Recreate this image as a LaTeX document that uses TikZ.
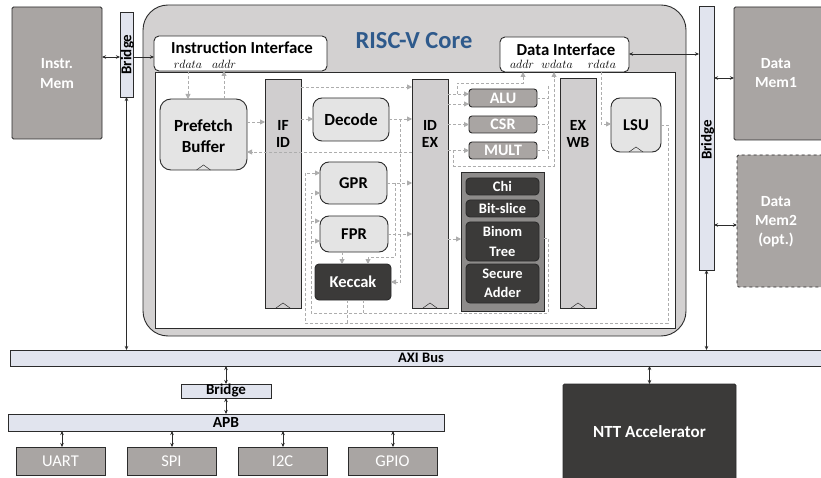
\documentclass[tikz,border=0pt]{standalone}
\usepackage{fontspec}
\setmainfont{Carlito}
\usetikzlibrary{arrows.meta,calc}
\definecolor{memgrey}{HTML}{A9A5A3}
\definecolor{coregrey}{HTML}{D3D1D1}
\definecolor{buscol}{HTML}{E1E4EE}
\definecolor{reggrey}{HTML}{D0CECF}
\definecolor{unitgrey}{HTML}{E4E4E4}
\definecolor{darkunit}{HTML}{3B3A39}
\definecolor{grpgrey}{HTML}{8D8B8A}
\definecolor{flowgrey}{HTML}{ADADAD}
\definecolor{edgecol}{HTML}{2B2B2B}
\definecolor{titleblue}{HTML}{2E5A8C}
\newcommand\clockmark[1]{\draw[clk] ([xshift=-7pt]#1.south) -- ([yshift=5pt]#1.south) -- ([xshift=7pt]#1.south);}
\newcommand\bfs[2]{\bfseries\fontsize{#1}{#2}\selectfont}
\begin{document}
\begin{tikzpicture}[x=1pt,y=-1pt,
  box/.style={draw=edgecol,line width=0.9pt,inner sep=0pt,outer sep=0pt,align=center},
  lab/.style={font=\bfs{15.5}{20},align=center,inner sep=0pt},
  memory/.style={box,fill=memgrey,rounded corners=1.5pt},
  bus/.style={box,fill=buscol,line width=0.8pt},
  unit/.style={box,fill=unitgrey,rounded corners=9pt},
  reg/.style={box,fill=reggrey},
  exu/.style={box,fill=memgrey,rounded corners=3pt,text=white,font=\bfs{16}{18}},
  dk/.style={box,fill=darkunit,rounded corners=4pt,text=white,font=\bfs{16.5}{20}},
  grpunit/.style={dk,font=\bfs{14.5}{19.5}},
  periph/.style={box,fill=memgrey,text=white,font=\fontsize{16.5}{18}\selectfont},
  mlab/.style={font=\fontsize{13}{15}\selectfont,inner sep=0pt},
  flowline/.style={draw=flowgrey,line width=0.9pt,dash pattern=on 3pt off 2pt},
  flow/.style={flowline,-{Triangle[length=5pt,width=5pt]}},
  link/.style={draw=edgecol,line width=0.6pt,{Stealth[length=4pt,width=3.5pt]}-{Stealth[length=4pt,width=3.5pt]}},
  linkone/.style={draw=edgecol,line width=0.6pt,-{Stealth[length=4pt,width=3.5pt]}},
  clk/.style={draw=edgecol,line width=0.5pt}]
\useasboundingbox (0,0) rectangle (821,478);
\fill[white] (0,0) rectangle (821,478);
\clip (0,0) rectangle (821,478);

% ---------- memories and bridges around the core ----------
\node[memory,minimum width=90pt,minimum height=132pt] (imem) at (57,73) {};
\node[lab,text=white] (imemtxt) at (57,74) {Instr.\\Mem};
\node[bus,minimum width=13pt,minimum height=85pt] (lbr) at (126.5,54.5) {};
\node[lab,rotate=90,font=\bfs{15}{17}] (lbrtxt) at (127.5,54.5) {Bridge};

\node[bus,minimum width=15pt,minimum height=264pt] (rbr) at (706.5,138) {};
\node[lab,rotate=90,font=\bfs{15}{17}] (rbrtxt) at (707.5,140) {Bridge};
\node[memory,minimum width=96pt,minimum height=133pt] (mem1) at (782,73.5) {};
\node[lab,text=white,font=\bfs{15.5}{19}] (mem1txt) at (776,73.5) {Data\\Mem1};
\node[memory,dashed,minimum width=93pt,minimum height=132pt] (mem2) at (783.5,221) {};
\node[lab,text=white,font=\bfs{15.5}{19}] (mem2txt) at (776,222) {Data\\Mem2\\(opt.)};

% ---------- RISC-V core ----------
\node[box,fill=coregrey,rounded corners=25pt,minimum width=543pt,minimum height=331pt] (core) at (414.5,170.5) {};
\node[font=\bfs{24.5}{28},text=titleblue,inner sep=0pt] (coretitle) at (414,41) {RISC-V Core};
\node[box,fill=white,minimum width=520pt,minimum height=256pt] (pipe) at (415,200.5) {};

\node[box,fill=white,rounded corners=5pt,minimum width=173pt,minimum height=35pt] (iif) at (240.5,53.5) {};
\node[lab,font=\bfs{16.8}{19}] (iiftitle) at (242,47.5) {Instruction Interface};
\node[mlab] (iifrd) at (188,64.5) {$rdata$};
\node[mlab] (iifad) at (224,64.5) {$addr$};

\node[box,fill=white,rounded corners=5pt,minimum width=129pt,minimum height=35pt] (dif) at (564.5,54.5) {};
\node[lab,font=\bfs{16.8}{19}] (diftitle) at (566,49.5) {Data Interface};
\node[mlab] (difad) at (522,64.5) {$addr$};
\node[mlab] (difwd) at (557,64.5) {$wdata$};
\node[mlab] (difrd) at (602,64.5) {$rdata$};

% pipeline registers
\node[reg,minimum width=36pt,minimum height=229pt] (ifid) at (283,193.5) {};
\node[lab,font=\bfs{15.5}{17.5}] (ifidtxt) at (283,134) {IF\\ID};
\node[reg,minimum width=36pt,minimum height=229pt] (idex) at (430,193.5) {};
\node[lab,font=\bfs{15.5}{17.5}] (idextxt) at (430,134) {ID\\EX};
\node[reg,minimum width=36pt,minimum height=230pt] (exwb) at (578,193) {};
\node[lab,font=\bfs{15.5}{17.5}] (exwbtxt) at (578,134) {EX\\WB};
\clockmark{ifid}
\clockmark{idex}
\clockmark{exwb}

% functional units
\node[unit,minimum width=87pt,minimum height=71pt,rounded corners=11pt] (pref) at (203.5,134.5) {};
\node[lab,font=\bfs{17}{21}] (preftxt) at (203.5,136) {Prefetch\\Buffer};
\clockmark{pref}
\node[unit,minimum width=76pt,minimum height=43pt,lab,font=\bfs{17}{20}] (dec) at (351,119.5) {Decode};
\node[unit,minimum width=67pt,minimum height=42pt,lab,font=\bfs{16.5}{20}] (gpr) at (353.5,183) {GPR};
\node[unit,minimum width=68pt,minimum height=36pt,lab,font=\bfs{16.5}{20}] (fpr) at (354,234) {FPR};
\node[dk,minimum width=76pt,minimum height=36pt] (kec) at (353,282) {Keccak};
\node[unit,minimum width=50pt,minimum height=54pt,lab,font=\bfs{16.5}{20}] (lsu) at (636,125) {LSU};
\clockmark{lsu}

\node[exu,minimum width=68pt,minimum height=18pt] (alu) at (503,98) {ALU};
\node[exu,minimum width=68pt,minimum height=17pt] (csr) at (503,124.5) {CSR};
\node[exu,minimum width=68pt,minimum height=17pt] (mult) at (503,150.5) {MULT};

\node[box,fill=grpgrey,minimum width=83pt,minimum height=139pt] (grp) at (502.5,241.5) {};
\node[grpunit,minimum width=73pt,minimum height=17pt] (chi) at (502.5,186.5) {Chi};
\node[grpunit,minimum width=73pt,minimum height=17pt] (bits) at (502.5,208.5) {Bit-slice};
\node[grpunit,minimum width=73pt,minimum height=39pt] (binom) at (502.5,241.5) {Binom\\Tree};
\node[grpunit,minimum width=73pt,minimum height=39pt] (sadd) at (502.5,283.5) {Secure\\Adder};

% ---------- internal data flow ----------
\draw[flow] (iifrd.south |- iif.south) -- (iifrd.south |- pref.north);
\draw[flow] (iifad.south |- pref.north) -- (iifad.south |- iif.south);
\draw[flow] (pref.east |- 0,122) -- (ifid.west |- 0,122);
\draw[flow] (ifid.east |- 0,119) -- (dec.west |- 0,119);
\draw[flow] (ifid.east |- 0,87) -- (idex.west |- 0,87);
\draw[flow] (dec.east |- 0,119) -- (idex.west |- 0,119);
\draw[flow] (idex.west |- 0,152) -- (pref.east |- 0,152);
\draw[flow] (dec.east -| 400,0) |- (kec.east);
\draw[flow] (gpr.east) -- (idex.west |- gpr.east);
\draw[flow] (gpr.east -| 395,0) -- (395,257) -| (kec.north -| 368,0);
\draw[flow] (fpr.east) -- (idex.west |- fpr.east);
\draw[flow] (fpr.south -| 342,0) -- (kec.north -| 342,0);
\draw[flow] (lsu.east) -- (668,125) -- (668,323) -- (305,323) |- (gpr.west |- 0,173);
\draw[flowline] (kec.south -| 347,0) -- (347,323);
\draw[flow] (grp.east |- 0,238) -- (548,238) -- (548,313) -- (311,313) |- (gpr.west |- 0,193);
\draw[flow] (311,221) -- (fpr.west |- 0,221);
\draw[flow] (311,241) -- (fpr.west |- 0,241);
\draw[flowline] (kec.south -| 363,0) -- (363,313);
\draw[flow] (idex.east |- 0,94) -- (alu.west |- 0,94);
\draw[flow] (457,94) -- (457,83) -| (dif.south -| 523,0);
\draw[flow] (idex.east |- 0,104) -- (alu.west |- 0,104);
\draw[flow] (idex.east |- csr.west) -- (csr.west);
\draw[flow] (idex.east |- mult.west) -- (mult.west);
\draw[flowline] (alu.east) -- (548,98);
\draw[flowline] (csr.east) -- (548,124.5);
\draw[flowline] (mult.east) -- (548,150.5);
\draw[flowline] (548,86) -- (548,160);
\draw[flow] (453,150.5) -- (453,166) -| (dif.south -| 554,0);
\draw[flow] (idex.east |- 0,239) -- (grp.west |- 0,239);
\draw[flow] (dif.south -| 601,0) |- (lsu.west |- 0,124);

% ---------- system buses ----------
\node[bus,minimum width=820pt,minimum height=16pt] (axi) at (420,358) {};
\node[lab,font=\bfs{14.5}{16}] (axitxt) at (421,358) {AXI Bus};
\node[bus,minimum width=90pt,minimum height=14pt,font=\bfs{15}{16}] (bbr) at (226,391) {Bridge};
\node[bus,minimum width=436pt,minimum height=17pt,font=\bfs{15.5}{17}] (apb) at (226,422.5) {APB};
\node[periph,minimum width=89pt,minimum height=28pt] (uart) at (60.5,461) {UART};
\node[periph,minimum width=89pt,minimum height=28pt] (spi) at (171.5,461) {SPI};
\node[periph,minimum width=89pt,minimum height=28pt] (i2c) at (282.5,461) {I2C};
\node[periph,minimum width=89pt,minimum height=28pt] (gpio) at (392.5,461) {GPIO};
\node[box,fill=darkunit,rounded corners=1.5pt,minimum width=173pt,minimum height=96pt] (ntt) at (649.5,432) {};
\node[lab,text=white,font=\bfs{17}{19}] (ntttxt) at (649.5,432) {NTT Accelerator};

% ---------- bus links ----------
\draw[link] (imem.east |- 0,57) -- (lbr.west |- 0,57);
\draw[linkone] (lbr.east |- 0,57) -- (iif.west |- 0,57);
\draw[link] (lbr.south) -- (lbr.south |- axi.north);
\draw[link] (rbr.west |- 0,54) -- (dif.east |- 0,54);
\draw[link] (rbr.east |- 0,78) -- (mem1.west |- 0,78);
\draw[link] (rbr.east |- 0,225) -- (mem2.west |- 0,225);
\draw[link] (rbr.south) -- (rbr.south |- axi.north);
\draw[link] (bbr.north |- axi.south) -- (bbr.north);
\draw[link] (bbr.south) -- (bbr.south |- apb.north);
\draw[link] (apb.south -| 62,0) -- (uart.north -| 62,0);
\draw[link] (apb.south -| 172,0) -- (spi.north -| 172,0);
\draw[link] (apb.south -| 283,0) -- (i2c.north -| 283,0);
\draw[link] (apb.south -| 393,0) -- (gpio.north -| 393,0);
\draw[link] (ntt.north |- axi.south) -- (ntt.north);
\end{tikzpicture}
\end{document}
